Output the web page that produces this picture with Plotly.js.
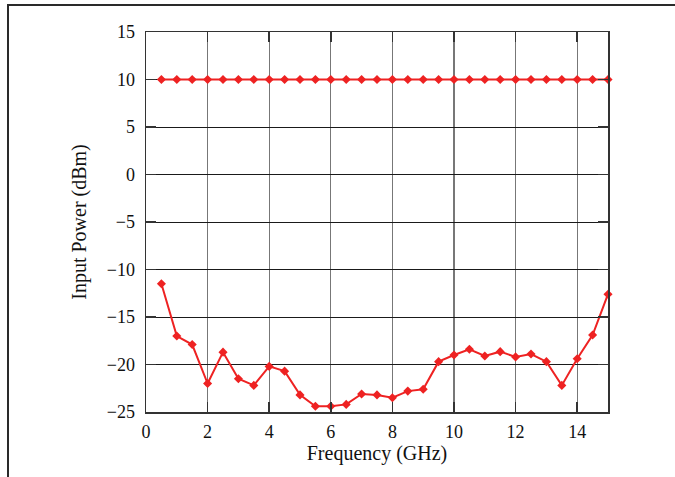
<!DOCTYPE html>
<html>
<head>
<meta charset="utf-8">
<script src="https://cdn.plot.ly/plotly-3.0.1.min.js"></script>
<style>
  html, body { margin: 0; padding: 0; background: #fff; }
  #wrap { position: relative; width: 675px; height: 477px; overflow: hidden; }
  #chart { position: absolute; left: 0; top: 0; width: 675px; height: 477px; }
  #frame { position: absolute; left: 7px; top: 4px; width: 700px; height: 500px;
           border-left: 2px solid #2a2a2a; border-top: 2px solid #2a2a2a; pointer-events: none; }
</style>
</head>
<body>
<div id="wrap">
  <div id="chart"></div>
  <div id="frame"></div>
</div>
<script>
// Data
const frequencyGHz = [0.5, 1, 1.5, 2, 2.5, 3, 3.5, 4, 4.5, 5, 5.5, 6, 6.5, 7, 7.5,
                      8, 8.5, 9, 9.5, 10, 10.5, 11, 11.5, 12, 12.5, 13, 13.5, 14, 14.5, 15];
const upperPower = [10, 10, 10, 10, 10, 10, 10, 10, 10, 10, 10, 10, 10, 10, 10,
                    10, 10, 10, 10, 10, 10, 10, 10, 10, 10, 10, 10, 10, 10, 10];
const lowerPower = [-11.5, -17.0, -17.9, -22.0, -18.7, -21.5, -22.2, -20.2, -20.7, -23.2,
                    -24.4, -24.4, -24.2, -23.1, -23.2, -23.5, -22.8, -22.6, -19.7, -19.0,
                    -18.4, -19.1, -18.65, -19.2, -18.9, -19.7, -22.2, -19.4, -16.9, -12.6];
const xTicks = [0, 2, 4, 6, 8, 10, 12, 14];
const yTicks = [-25, -20, -15, -10, -5, 0, 5, 10, 15];

const red = '#ee2222';
const fontFam = '"Liberation Serif", "Times New Roman", serif';

const traces = [
  { x: frequencyGHz, y: upperPower, mode: 'lines+markers', type: 'scatter', cliponaxis: false,
    line: { color: red, width: 2 },
    marker: { symbol: 'diamond', size: 7, color: red } },
  { x: frequencyGHz, y: lowerPower, mode: 'lines+markers', type: 'scatter', cliponaxis: false,
    line: { color: red, width: 2 },
    marker: { symbol: 'diamond', size: 7, color: red } }
];

const layout = {
  width: 675, height: 477,
  margin: { l: 146, r: 67, t: 32, b: 65 },
  paper_bgcolor: '#ffffff', plot_bgcolor: '#ffffff',
  showlegend: false,
  font: { family: fontFam, size: 18, color: '#111' },
  xaxis: {
    range: [0, 15], tickvals: xTicks, ticktext: xTicks.map(String),
    showline: true, linecolor: '#333', linewidth: 1.5, mirror: 'ticks',
    ticks: 'inside', ticklen: 10, tickcolor: '#333', tickwidth: 1.5,
    showgrid: true, gridcolor: '#777', gridwidth: 1.3, zeroline: false,
    ticklabelstandoff: 3,
    tickfont: { family: fontFam, size: 18, color: '#111' },
    title: { text: 'Frequency (GHz)', font: { family: fontFam, size: 20, color: '#111' }, standoff: 5 }
  },
  yaxis: {
    range: [-25, 15], tickvals: yTicks, ticktext: yTicks.map(v => v < 0 ? '\u2212' + Math.abs(v) : String(v)),
    showline: true, linecolor: '#333', linewidth: 1.5, mirror: 'ticks',
    ticks: 'inside', ticklen: 10, tickcolor: '#333', tickwidth: 1.5,
    showgrid: true, gridcolor: '#1a1a1a', gridwidth: 1, zeroline: false,
    ticklabelstandoff: 6,
    tickfont: { family: fontFam, size: 18, color: '#111' },
    title: { text: 'Input Power (dBm)', font: { family: fontFam, size: 20, color: '#111' }, standoff: 14 }
  }
};

Plotly.newPlot('chart', traces, layout, { displayModeBar: false, staticPlot: true });
</script>
</body>
</html>
